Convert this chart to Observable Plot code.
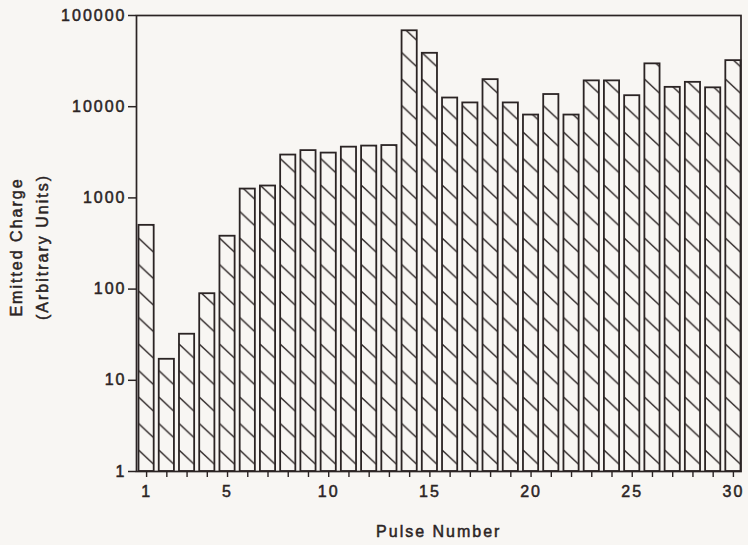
<!DOCTYPE html>
<html>
<head>
<meta charset="utf-8">
<script src="https://cdn.jsdelivr.net/npm/d3@7"></script>
<script src="https://cdn.jsdelivr.net/npm/@observablehq/plot@0.6"></script>
<style>
  html, body { margin: 0; padding: 0; background: #f8f6f3; }
  #chart svg text {
    font-family: "Liberation Sans", Arial, Helvetica, sans-serif;
    letter-spacing: 2px;
    stroke: #2b2424;
    stroke-width: 0.5px;
  }
</style>
</head>
<body>
<div id="chart"></div>
<script>
// ---- data ----
const pulses = [1, 2, 3, 4, 5, 6, 7, 8, 9, 10, 11, 12, 13, 14, 15,
                16, 17, 18, 19, 20, 21, 22, 23, 24, 25, 26, 27, 28, 29, 30];
const charge = [500, 17, 32, 89, 380, 1250, 1350, 2950, 3300, 3100,
                3600, 3700, 3750, 68000, 38500, 12450, 11000, 19800, 11000, 8100,
                13600, 8100, 19200, 19200, 13200, 29500, 16300, 18500, 16100, 32000];
const yTicks = [1, 10, 100, 1000, 10000, 100000];
const xLabels = [1, 5, 10, 15, 20, 25, 30];
const yTitle = ["Emitted Charge", "(Arbitrary Units)"];
const xTitle = "Pulse Number";

const ink = "#2b2424";
const data = pulses.map((p, i) => ({pulse: p, charge: charge[i]}));

const chart = Plot.plot({
  width: 748,
  height: 545,
  marginLeft: 136,
  marginRight: 7.5,
  marginTop: 15,
  marginBottom: 74,
  style: {background: "#f8f6f3", color: ink, fontSize: "16px",
          fontFamily: "'Liberation Sans', Arial, sans-serif"},
  x: {type: "band", domain: pulses, paddingInner: 0.25, paddingOuter: 0.062, align: 1, round: false},
  y: {type: "log", domain: [1, 100000]},
  marks: [
    Plot.barY(data, {x: "pulse", y1: 1, y2: "charge", fill: "url(#hatch)", stroke: ink, strokeWidth: 1.8}),
    Plot.frame({stroke: ink, strokeWidth: 1.7}),
    Plot.axisY({ticks: yTicks, tickFormat: d3.format("d"), tickSize: 8, tickPadding: 2,
                label: null, fontSize: 16, strokeWidth: 1.5}),
    Plot.axisX({ticks: pulses, tickFormat: d => xLabels.includes(d) ? String(d) : "",
                tickSize: 6, tickPadding: 8, label: null, fontSize: 16, strokeWidth: 1.4}),
    Plot.text([yTitle[0]], {frameAnchor: "left", rotate: -90, textAnchor: "middle", lineAnchor: "middle",
                            dx: -120, dy: 3.5, fontSize: 16, fill: ink}),
    Plot.text([yTitle[1]], {frameAnchor: "left", rotate: -90, textAnchor: "middle", lineAnchor: "middle",
                            dx: -93.5, dy: 3.5, fontSize: 16, fill: ink}),
    Plot.text([xTitle], {frameAnchor: "bottom", textAnchor: "middle", lineAnchor: "middle",
                         dy: 60, fontSize: 16, fill: ink})
  ]
});

// hatch pattern aligned with every bar (one tile per band step)
const xs = chart.scale("x");
const ys = chart.scale("y");
const ns = "http://www.w3.org/2000/svg";
const svg = chart.tagName.toLowerCase() === "svg" ? chart : chart.querySelector("svg");
const defs = document.createElementNS(ns, "defs");
const pat = document.createElementNS(ns, "pattern");
const tileH = 26.5;
const bw = xs.bandwidth;
pat.setAttribute("id", "hatch");
pat.setAttribute("patternUnits", "userSpaceOnUse");
pat.setAttribute("x", xs.apply(pulses[0]));
pat.setAttribute("y", ys.apply(yTicks[0]) - 21);
pat.setAttribute("width", xs.step);
pat.setAttribute("height", tileH);
const bg = document.createElementNS(ns, "rect");
bg.setAttribute("width", xs.step);
bg.setAttribute("height", tileH);
bg.setAttribute("fill", "#f8f6f3");
pat.appendChild(bg);
for (const off of [-tileH, 0, tileH]) {
  const ln = document.createElementNS(ns, "line");
  ln.setAttribute("x1", 0);
  ln.setAttribute("y1", off);
  ln.setAttribute("x2", bw);
  ln.setAttribute("y2", off + 14.2);
  ln.setAttribute("stroke", ink);
  ln.setAttribute("stroke-width", 1.4);
  pat.appendChild(ln);
}
defs.appendChild(pat);
svg.insertBefore(defs, svg.firstChild);

document.getElementById("chart").appendChild(chart);
</script>
</body>
</html>
